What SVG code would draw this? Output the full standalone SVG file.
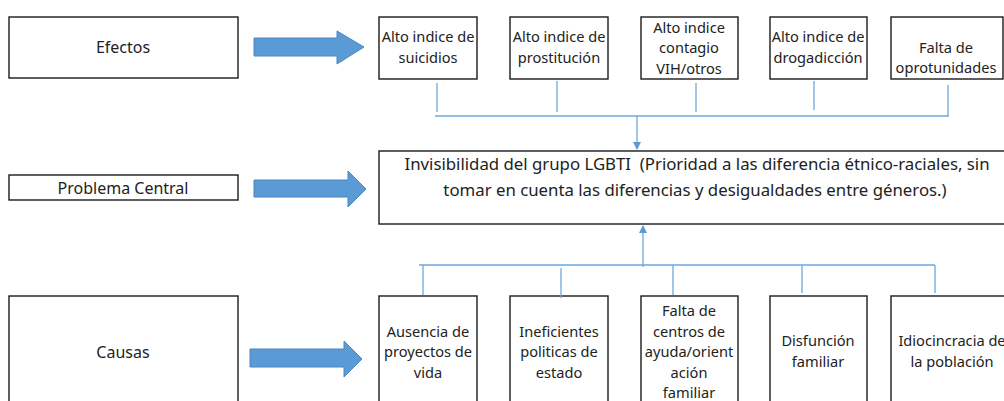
<svg xmlns="http://www.w3.org/2000/svg" width="1004" height="401" viewBox="0 0 1004 401">
<defs>
<style>
.box{fill:#fff;stroke:#1a1a1a;stroke-width:1.4}
.t{font-family:"Noto Sans","Open Sans",sans-serif;font-size:14.6px;fill:#222;text-anchor:middle}
.tl{font-family:"Noto Sans","Open Sans",sans-serif;font-size:16px;fill:#222;text-anchor:middle}
.tc{font-family:"Noto Sans","Open Sans",sans-serif;font-size:16.8px;fill:#222;text-anchor:middle;white-space:pre}
.fat{fill:#5B9BD5;stroke:#4A86BE;stroke-width:1}
.ln{stroke:#6FA8DC;stroke-width:1.3;fill:none}
</style>
<marker id="ah" markerWidth="8" markerHeight="8" refX="7" refY="4" orient="auto" markerUnits="userSpaceOnUse">
<path d="M0,0 L8,4 L0,8 z" fill="#5B9BD5"/>
</marker>
</defs>
<rect width="1004" height="401" fill="#fff"/>

<g id="efectos"><rect class="box" x="9" y="17" width="229" height="61"/><text class="tl" x="123" y="53">Efectos</text></g>
<g id="problema"><rect class="box" x="9" y="175" width="229" height="25"/><text class="tl" x="123" y="193.5">Problema Central</text></g>
<g id="causas"><rect class="box" x="9" y="296" width="229" height="120"/><text class="tl" x="123" y="358">Causas</text></g>

<g id="arrows">
<path class="fat" d="M254,38 H337 V31 L364,47 L337,64 V56 H254 Z"/>
<path class="fat" d="M254,180 H348 V171 L366,189 L348,207 V197 H254 Z"/>
<path class="fat" d="M250,349 H344 V341 L362,359 L344,377 V367 H250 Z"/>
</g>

<g id="e1"><rect class="box" x="379" y="17" width="98" height="62"/><text class="t" x="428" y="42">Alto indice de</text><text class="t" x="428" y="63">suicidios</text></g>
<g id="e2"><rect class="box" x="510" y="17" width="98" height="62"/><text class="t" x="559" y="42">Alto indice de</text><text class="t" x="559" y="63">prostitución</text></g>
<g id="e3"><rect class="box" x="641" y="17" width="97" height="62"/><text class="t" x="689" y="33">Alto indice</text><text class="t" x="689" y="53">contagio</text><text class="t" x="689" y="74">VIH/otros</text></g>
<g id="e4"><rect class="box" x="770" y="17" width="97" height="62"/><text class="t" x="818" y="42">Alto indice de</text><text class="t" x="818" y="63">drogadicción</text></g>
<g id="e5"><rect class="box" x="891" y="17" width="112" height="62"/><text class="t" x="946" y="53">Falta de</text><text class="t" x="946" y="73">oprotunidades</text></g>

<g id="central"><rect class="box" x="379" y="151" width="630" height="73"/>
<text class="tc" x="697" y="170" xml:space="preserve">Invisibilidad del grupo LGBTI  (Prioridad a las diferencia étnico-raciales, sin</text>
<text class="tc" x="695" y="196">tomar en cuenta las diferencias y desigualdades entre géneros.)</text></g>

<g id="c1"><rect class="box" x="379" y="296" width="98" height="120"/><text class="t" x="428" y="337">Ausencia de</text><text class="t" x="428" y="357">proyectos de</text><text class="t" x="428" y="378">vida</text></g>
<g id="c2"><rect class="box" x="510" y="296" width="98" height="120"/><text class="t" x="559" y="337">Ineficientes</text><text class="t" x="559" y="357">politicas de</text><text class="t" x="559" y="378">estado</text></g>
<g id="c3"><rect class="box" x="641" y="296" width="97" height="120"/><text class="t" x="689" y="316">Falta de</text><text class="t" x="689" y="337">centros de</text><text class="t" x="689" y="357">ayuda/orient</text><text class="t" x="689" y="378">ación</text><text class="t" x="689" y="398">familiar</text></g>
<g id="c4"><rect class="box" x="770" y="296" width="97" height="120"/><text class="t" x="818" y="346">Disfunción</text><text class="t" x="818" y="367">familiar</text></g>
<g id="c5"><rect class="box" x="891" y="296" width="120" height="120"/><text class="t" x="952" y="346">Idiocincracia de</text><text class="t" x="952" y="367">la población</text></g>

<g id="connectors">
<path class="ln" d="M437,83 V112 M557,81 V112 M696,83 V112 M814,81 V110 M948,85 V116 M435,116 H949"/>
<path class="ln" d="M637,116 V149" marker-end="url(#ah)"/>
<path class="ln" d="M419,265 H935 M423,265 V295 M561,268 V298 M673,265 V295 M802,265 V293 M935,265 V293"/>
<path class="ln" d="M643,267 V226" marker-end="url(#ah)"/>
</g>
</svg>
